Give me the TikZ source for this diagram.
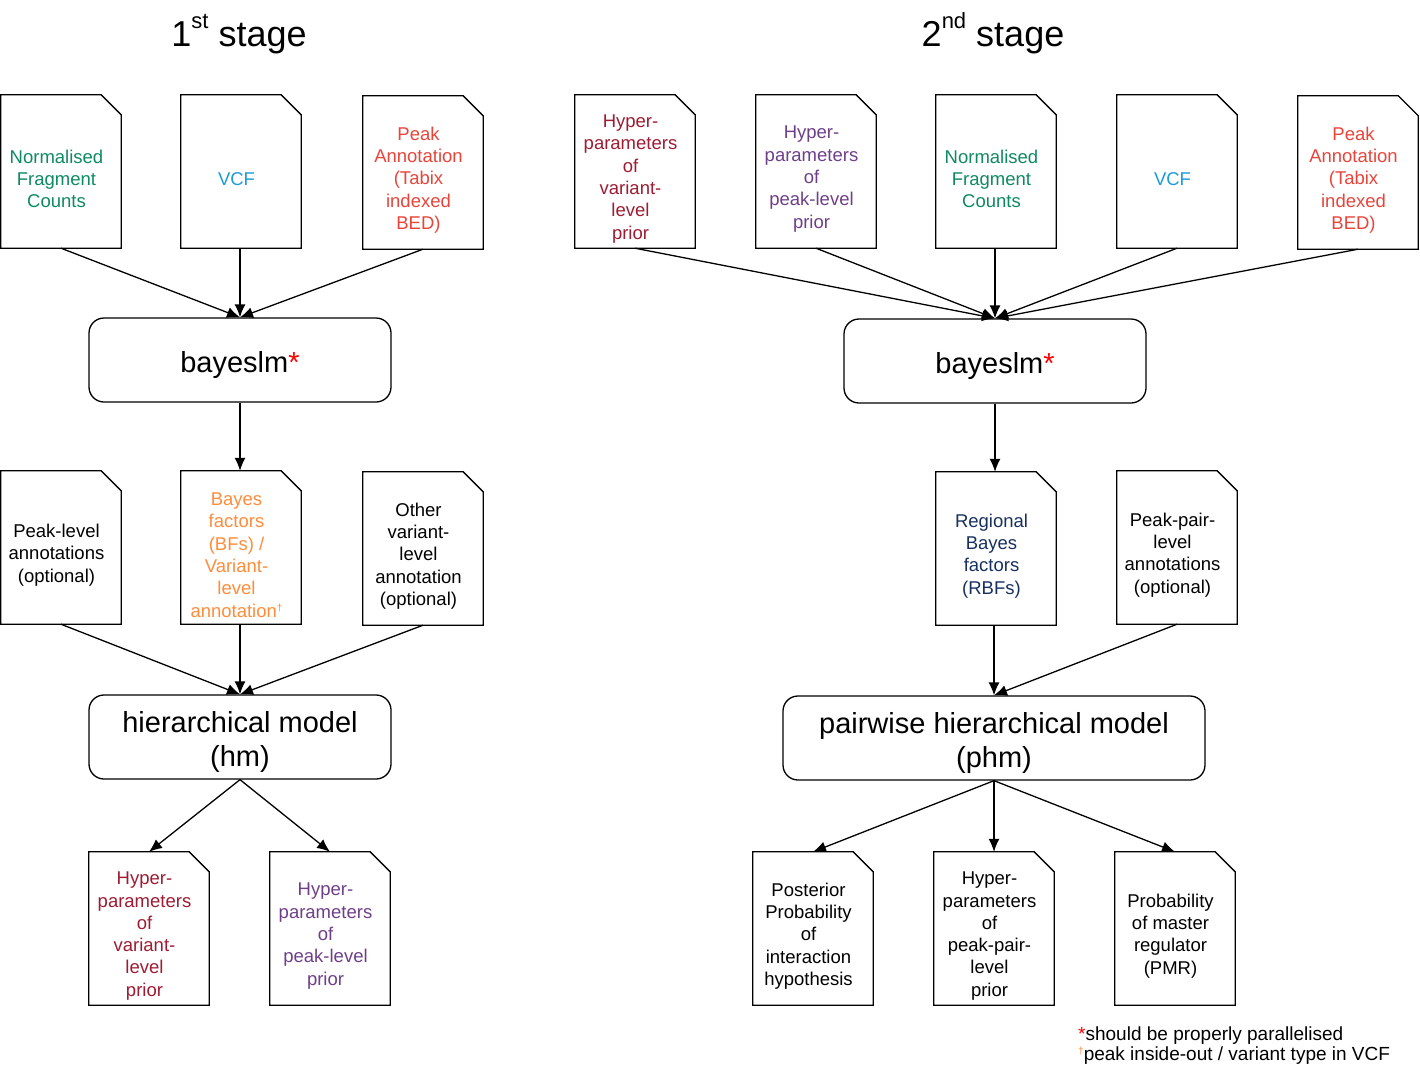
\documentclass[tikz,border=0pt]{standalone}
\usepackage{fontspec}
\setmainfont{Liberation Sans}
\usetikzlibrary{arrows.meta}
\definecolor{cgreen}{HTML}{0E8A5F}
\definecolor{cblue}{HTML}{1C9BD9}
\definecolor{cred}{HTML}{E7443A}
\definecolor{cdred}{HTML}{9E1B32}
\definecolor{cpurple}{HTML}{6E3F88}
\definecolor{corange}{HTML}{FF8C3B}
\definecolor{cnavy}{HTML}{17305F}
\tikzset{
  docshape/.style={minimum width=120pt, minimum height=153pt, inner sep=0pt, draw=none},
  doctext/.style={align=center, inner sep=0pt, font=\fontsize{18.5}{22.3}\selectfont},
  docline/.style={line width=1.3pt, line join=miter},
  procbox/.style={draw, line width=1.3pt, rounded corners=15pt, minimum height=84pt, inner sep=0pt},
  proctext/.style={align=center, inner sep=0pt, font=\fontsize{29}{34}\selectfont},
  arr/.style={line width=1.3pt, -{Latex[length=13pt,width=11pt]}},
  titletext/.style={font=\fontsize{36}{40}\selectfont, inner sep=0pt},
}
\newcommand\docbox[4]{%
  \node[docshape] (#1) at (#2) {};
  \node[doctext, text=#3] (#1t) at ([xshift=-4.5pt,yshift=-7.5pt]#1.center) {#4};
  \draw[docline] (#1.south west) -- (#1.north west) -- ([xshift=-20pt]#1.north east) -- ([yshift=-20pt]#1.north east) -- (#1.south east) -- cycle;
}
\newcommand\procnode[4]{%
  \node[procbox, minimum width=#3] (#1) at (#2) {};
  \node[proctext] (#1t) at ([yshift=-4.5pt]#1.center) {#4};
}
\newcommand\supsc[2]{\smash{\raisebox{0.5em}{\fontsize{#1}{#1}\selectfont #2}}}
\newcommand\mydag{\smash{\raisebox{6pt}{\fontsize{10}{10}\selectfont †}}}
\begin{document}
\begin{tikzpicture}[x=1pt,y=-1pt]
\useasboundingbox (0,0) rectangle (1420,1074);
% titles
\node[titletext] (title1) at (239,38) {1\supsc{22}{st} stage};
\node[titletext] (title2) at (993,38) {2\supsc{22}{nd} stage};
% ---- stage 1
\docbox{nfc1}{61,171.5}{cgreen}{Normalised\\Fragment\\Counts}
\docbox{vcf1}{241,171.5}{cblue}{VCF}
\docbox{peak1}{423,172.5}{cred}{Peak\\Annotation\\(Tabix\\indexed\\BED)}
\procnode{bayes1}{240,360}{302pt}{bayeslm\textcolor{red}{*}}
\docbox{pl1}{61,547.5}{black}{Peak-level\\annotations\\(optional)}
\docbox{bf1}{241,547.5}{corange}{Bayes\\factors\\(BFs) /\\Variant-\\level\\annotation\mydag}
\docbox{oth1}{423,548.5}{black}{Other\\variant-\\level\\annotation\\(optional)}
\procnode{hm}{240,737}{302pt}{hierarchical model\\(hm)}
\docbox{hv1}{149,928.5}{cdred}{Hyper-\\parameters\\of\\variant-\\level\\prior}
\docbox{hp1}{330,928.5}{cpurple}{Hyper-\\parameters\\of\\peak-level\\prior}
\draw[arr] (nfc1.south) -- (bayes1.north);
\draw[arr] (vcf1.south -| bayes1.north) -- (bayes1.north);
\draw[arr] (peak1.south) -- (bayes1.north);
\draw[arr] (bayes1.south) -- (bayes1.south |- bf1.north);
\draw[arr] (pl1.south) -- (hm.north);
\draw[arr] (bf1.south -| hm.north) -- (hm.north);
\draw[arr] (oth1.south) -- (hm.north);
\draw[arr] (hm.south) -- (hv1.north);
\draw[arr] (hm.south) -- (hp1.north);
% ---- stage 2
\docbox{hv2}{635,171.5}{cdred}{Hyper-\\parameters\\of\\variant-\\level\\prior}
\docbox{hp2}{816,171.5}{cpurple}{Hyper-\\parameters\\of\\peak-level\\prior}
\docbox{nfc2}{996,171.5}{cgreen}{Normalised\\Fragment\\Counts}
\docbox{vcf2}{1177,171.5}{cblue}{VCF}
\docbox{peak2}{1358,172.5}{cred}{Peak\\Annotation\\(Tabix\\indexed\\BED)}
\procnode{bayes2}{995,361}{302pt}{bayeslm\textcolor{red}{*}}
\docbox{rbf}{996,548.5}{cnavy}{Regional\\Bayes\\factors\\(RBFs)}
\docbox{pp}{1177,547.5}{black}{Peak-pair-\\level\\annotations\\(optional)}
\procnode{phm}{994,738}{422pt}{pairwise hierarchical model\\(phm)}
\docbox{post}{813,928.5}{black}{Posterior\\Probability\\of\\interaction\\hypothesis}
\docbox{hpp}{994,928.5}{black}{Hyper-\\parameters\\of\\peak-pair-\\level\\prior}
\docbox{pmr}{1175,928.5}{black}{Probability\\of master\\regulator\\(PMR)}
\foreach \n in {hv2,hp2,vcf2,peak2} \draw[arr] (\n.south) -- (bayes2.north);
\draw[arr] (nfc2.south -| bayes2.north) -- (bayes2.north);
\draw[arr] (bayes2.south) -- (bayes2.south |- rbf.north);
\draw[arr] (rbf.south -| phm.north) -- (phm.north);
\draw[arr] (pp.south) -- (phm.north);
\foreach \n in {post,hpp,pmr} \draw[arr] (phm.south) -- (\n.north);
% footnote
\node[anchor=west, align=left, inner sep=0pt, font=\fontsize{19}{20}\selectfont] (foot) at (1078,1046)
  {\textcolor{red}{*}should be properly parallelised\\\textcolor{corange}{\mydag}peak inside-out / variant type in VCF};
\end{tikzpicture}
\end{document}
